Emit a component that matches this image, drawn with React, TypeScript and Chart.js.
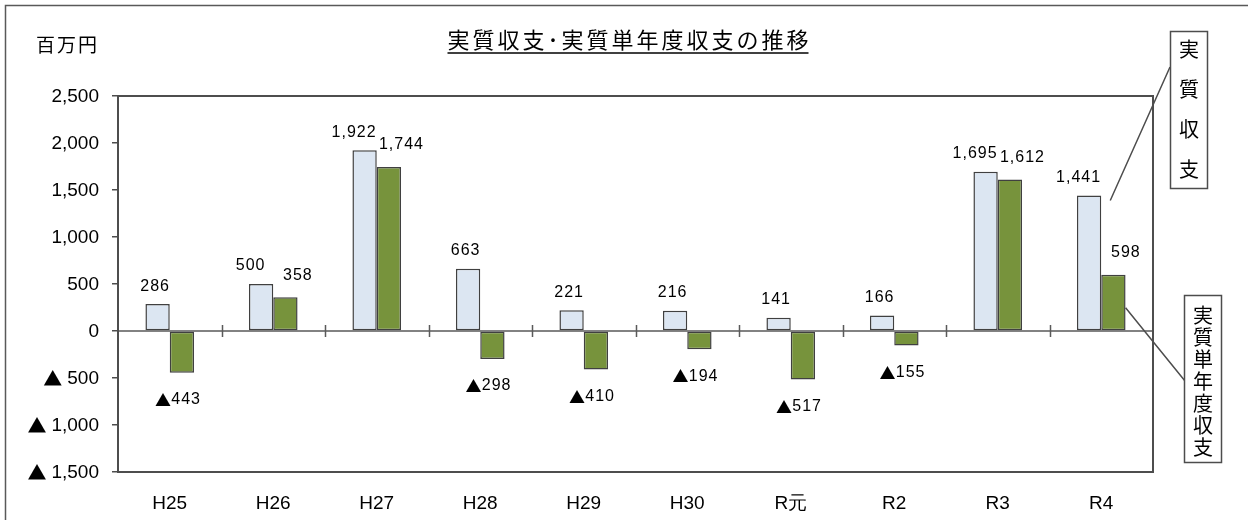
import React, { useEffect, useRef } from 'react';
import { Chart, registerables } from 'chart.js';

Chart.register(...registerables);

const categories = ['H25', 'H26', 'H27', 'H28', 'H29', 'H30', 'R元', 'R2', 'R3', 'R4'];
const jisshitsuShushi = [286, 500, 1922, 663, 221, 216, 141, 166, 1695, 1441];
const tannendoShushi = [-443, 358, 1744, -298, -410, -194, -517, -155, 1612, 598];
const yMin = -1500;
const yMax = 2500;
const yStep = 500;
const titleText = '実質収支･実質単年度収支の推移';
const unitText = '百万円';
const legend1Text = '実質収支';
const legend2Text = '実質単年度収支';
const negMark = '▲';

const JP = '"Noto Sans CJK JP", sans-serif';
const LAT = '"Liberation Sans", Arial, sans-serif';

const num = (v: number) => Math.abs(v).toLocaleString('en-US');

// draws "▲1,234" style text; anchor: 'center' or 'right'
function drawValue(ctx: any, v: number, x: number, y: number, size: number, markSize: number, gap: number, spacing: number, anchor: 'center' | 'right') {
  ctx.save();
  ctx.textAlign = 'left';
  ctx.font = size + 'px ' + LAT;
  ctx.letterSpacing = spacing + 'px';
  const digits = num(v);
  const dw = ctx.measureText(digits).width - spacing;
  let mw = 0;
  if (v < 0) {
    ctx.font = markSize + 'px ' + JP;
    ctx.letterSpacing = '0px';
    mw = ctx.measureText(negMark).width * 0.9 + gap;
  }
  const total = dw + mw;
  const start = anchor === 'center' ? x - total / 2 : x - total;
  if (v < 0) {
    ctx.font = markSize + 'px ' + JP;
    ctx.letterSpacing = '0px';
    ctx.fillText(negMark, start - ctx.measureText(negMark).width * 0.05, y);
  }
  ctx.font = size + 'px ' + LAT;
  ctx.letterSpacing = spacing + 'px';
  ctx.fillText(digits, start + mw, y);
  ctx.restore();
}

const decorPlugin = {
  id: 'decor',
  beforeDatasetsDraw(chart: any) {
    const { ctx, chartArea: a, scales } = chart;
    const x = scales.x;
    const y = scales.y;
    const y0 = y.getPixelForValue(0);
    ctx.save();
    ctx.strokeStyle = '#5a5a5a';
    ctx.lineWidth = 1.5;
    ctx.beginPath();
    ctx.moveTo(a.left, y0);
    ctx.lineTo(a.right, y0);
    for (let i = 0; i < categories.length - 1; i++) {
      const px = Math.round((x.getPixelForValue(i) + x.getPixelForValue(i + 1)) / 2) + 0.5;
      ctx.moveTo(px, y0 - 6);
      ctx.lineTo(px, y0 + 6);
    }
    ctx.stroke();
    ctx.restore();
  },
  afterDatasetsDraw(chart: any) {
    const { ctx, chartArea: a, scales } = chart;
    const y = scales.y;
    ctx.save();
    // plot frame
    ctx.strokeStyle = '#4d4d4d';
    ctx.lineWidth = 2;
    ctx.strokeRect(a.left, a.top, a.right - a.left, a.bottom - a.top);

    // outer border
    ctx.strokeStyle = '#595959';
    ctx.lineWidth = 1.5;
    ctx.strokeRect(5.5, 5.5, 1260, 530);

    // y tick labels
    ctx.fillStyle = '#000';
    ctx.textBaseline = 'middle';
    y.ticks.forEach((t: any) => {
      const py = y.getPixelForValue(t.value);
      drawValue(ctx, t.value, 99, py + 1, 19, 19, 6, 0, 'right');
    });

    // data labels
    chart.data.datasets.forEach((ds: any, di: number) => {
      const meta = chart.getDatasetMeta(di);
      meta.data.forEach((el: any, i: number) => {
        const v = ds.data[i];
        const bothPos = jisshitsuShushi[i] >= 0 && tannendoShushi[i] >= 0;
        if (v >= 0) {
          ctx.textBaseline = 'bottom';
          const off = di === 0 ? (bothPos ? -11 : -3) : bothPos ? 12 : 4;
          const gap = di === 0 ? 10 : 14;
          drawValue(ctx, v, el.x + off, el.y - gap, 16, 16, 1, 1, 'center');
        } else {
          ctx.textBaseline = 'top';
          drawValue(ctx, v, el.x - 4, el.y + 19, 16, 16, 1, 1, 'center');
        }
      });
    });

    // title
    ctx.font = '22px ' + JP;
    (ctx as any).letterSpacing = '3px';
    ctx.textAlign = 'left';
    ctx.textBaseline = 'middle';
    const tw = ctx.measureText(titleText).width - 3;
    const tx = 628 - tw / 2;
    ctx.fillText(titleText, tx, 40);
    ctx.strokeStyle = '#000';
    ctx.lineWidth = 1.5;
    ctx.beginPath();
    ctx.moveTo(tx, 53);
    ctx.lineTo(tx + tw, 53);
    ctx.stroke();

    // unit
    ctx.font = '19px ' + JP;
    (ctx as any).letterSpacing = '2px';
    ctx.fillText(unitText, 36, 45);
    (ctx as any).letterSpacing = '0px';

    // legend boxes
    const blue = chart.getDatasetMeta(0).data[categories.length - 1];
    const green = chart.getDatasetMeta(1).data[categories.length - 1];
    ctx.strokeStyle = '#4d4d4d';
    ctx.lineWidth = 1.5;
    ctx.beginPath();
    ctx.moveTo(1170, 67);
    ctx.lineTo(blue.x + blue.width / 2 + 9, blue.y + 5);
    ctx.moveTo(1185, 381);
    ctx.lineTo(green.x + green.width / 2, green.y + 33);
    ctx.stroke();

    ctx.fillStyle = '#fff';
    ctx.fillRect(1170, 31, 37, 157);
    ctx.strokeRect(1170.5, 31.5, 37, 157);
    ctx.fillRect(1184, 295, 37, 167);
    ctx.strokeRect(1184.5, 295.5, 37, 167);

    ctx.fillStyle = '#000';
    ctx.font = '20px ' + JP;
    ctx.textAlign = 'center';
    ctx.textBaseline = 'middle';
    Array.from(legend1Text).forEach((c, i) => ctx.fillText(c, 1189, 49 + i * 40));
    Array.from(legend2Text).forEach((c, i) => ctx.fillText(c, 1203, 315 + i * 22));
    ctx.restore();
  },
};

export default function App() {
  const ref = useRef<HTMLCanvasElement>(null);
  useEffect(() => {
    document.body.style.margin = '0';
    const chart = new Chart(ref.current as HTMLCanvasElement, {
      type: 'bar',
      data: {
        labels: categories,
        datasets: [
          {
            label: legend1Text,
            data: jisshitsuShushi,
            backgroundColor: '#dce6f2',
            borderColor: '#404040',
            borderWidth: 1.5,
            borderSkipped: false,
            categoryPercentage: 0.47,
            barPercentage: 1.0,
          },
          {
            label: legend2Text,
            data: tannendoShushi,
            backgroundColor: '#77933c',
            borderColor: '#404040',
            borderWidth: 1.5,
            borderSkipped: false,
            categoryPercentage: 0.47,
            barPercentage: 1.0,
          },
        ],
      },
      options: {
        responsive: false,
        animation: false,
        layout: { padding: { left: 0, top: 96, right: 95, bottom: 0 } },
        plugins: { legend: { display: false }, tooltip: { enabled: false }, title: { display: false } },
        scales: {
          x: {
            grid: { display: false },
            border: { display: false },
            ticks: {
              color: '#000',
              font: { size: 19, family: LAT },
              padding: 12,
              maxRotation: 0,
            },
            afterFit: (s: any) => {
              s.height = 48;
            },
          },
          y: {
            min: yMin,
            max: yMax,
            grid: { drawOnChartArea: false, drawTicks: true, tickLength: 6, color: '#4d4d4d', lineWidth: 1.5 },
            border: { display: false },
            ticks: {
              stepSize: yStep,
              color: 'rgba(0,0,0,0)',
              font: { size: 19, family: LAT },
              padding: 12,
            },
            afterFit: (s: any) => {
              s.width = 118;
            },
          },
        },
      },
      plugins: [decorPlugin],
    });
    return () => chart.destroy();
  }, []);
  return (
    <div style={{ width: 1248, height: 520 }}>
      <canvas ref={ref} width={1248} height={520} style={{ display: 'block' }} />
    </div>
  );
}
